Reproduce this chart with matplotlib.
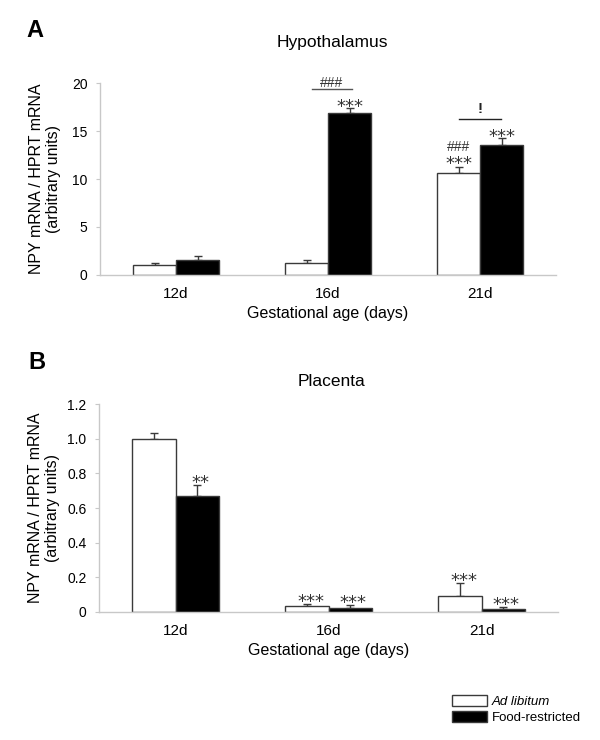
import matplotlib.pyplot as plt
import numpy as np

plt.rcParams['font.family'] = ['Liberation Sans', 'DejaVu Sans']

ages = ["12d", "16d", "21d"]
groups = ["Ad libitum", "Food-restricted"]

# hypothalamus
hyp_adlib = [1.0, 1.2, 10.6]
hyp_adlib_err = [0.24, 0.38, 0.7]
hyp_fr = [1.58, 16.9, 13.5]
hyp_fr_err = [0.35, 0.5, 0.75]
hyp_adlib_sig = ["", "", "***"]
hyp_adlib_sig2 = ["", "", "###"]
hyp_fr_sig = ["", "***", "***"]
hyp_pair_sig = ["", "###", "!"]

# placenta
pla_adlib = [1.0, 0.037, 0.094]
pla_adlib_err = [0.035, 0.01, 0.076]
pla_fr = [0.67, 0.025, 0.019]
pla_fr_err = [0.063, 0.015, 0.012]
pla_adlib_sig = ["", "***", "***"]
pla_fr_sig = ["**", "***", "***"]

fig = plt.figure(figsize=(6, 7.4), dpi=100)
axA = fig.add_axes([0.1667, 0.6284, 0.76, 0.2594])
axB = fig.add_axes([0.165, 0.173, 0.765, 0.281])

x = np.arange(len(ages))
w = 0.283
edge = "#3a3a3a"
grey = "#c8c8c8"
markc = "#333333"
star_fs = 13


def draw_panel(ax, white, white_err, black, black_err, ymax, step, fmt):
    ax.bar(x - w / 2, white, w, color="white", edgecolor=edge, linewidth=1.0, label=groups[0], zorder=2)
    ax.bar(x + w / 2, black, w, color="black", edgecolor=edge, linewidth=1.0, label=groups[1], zorder=2)
    ax.errorbar(x - w / 2, white, yerr=[np.zeros(3), white_err], fmt="none", ecolor=edge,
                elinewidth=1.0, capsize=3, capthick=1.0, zorder=1)
    ax.errorbar(x + w / 2, black, yerr=[np.zeros(3), black_err], fmt="none", ecolor=edge,
                elinewidth=1.0, capsize=3, capthick=1.0, zorder=1)
    ax.set_xlim(-0.5, 2.5)
    ax.set_ylim(0, ymax)
    ticks = np.arange(0, ymax + step / 2, step)
    ax.set_yticks(ticks)
    ax.set_yticklabels([fmt(t) for t in ticks], fontsize=10)
    ax.set_xticks(x)
    ax.set_xticklabels(ages, fontsize=11)
    ax.tick_params(axis="x", length=0, pad=9)
    ax.tick_params(axis="y", length=3, color=grey, pad=6)
    for s in ["top", "right"]:
        ax.spines[s].set_visible(False)
    for s in ["left", "bottom"]:
        ax.spines[s].set_color(grey)
        ax.spines[s].set_linewidth(1.0)
    ax.set_xlabel("Gestational age (days)", fontsize=11.5, labelpad=3)
    ax.set_ylabel("NPY mRNA / HPRT mRNA\n(arbitrary units)", fontsize=11.5, linespacing=1.15)
    ax.yaxis.set_label_coords(-0.085, 0.5)


def stars(ax, xs, tops, labels, pad_pt=5):
    # asterisk glyph centre sits pad_pt above the error-bar cap
    for xi, t, lab in zip(xs, tops, labels):
        if lab:
            ax.annotate(lab, (xi, t), xytext=(0, pad_pt - 0.55 * star_fs), textcoords="offset points",
                        ha="center", va="baseline", fontsize=star_fs, color=markc,
                        family="DejaVu Sans")


def hashes(ax, xi, y, lab, lift_pt):
    ax.annotate(lab, (xi, y), xytext=(0, lift_pt), textcoords="offset points",
                ha="center", va="baseline", fontsize=10, color=markc, annotation_clip=False)


draw_panel(axA, hyp_adlib, hyp_adlib_err, hyp_fr, hyp_fr_err, 20, 5, lambda t: "%d" % t)
draw_panel(axB, pla_adlib, pla_adlib_err, pla_fr, pla_fr_err, 1.2, 0.2,
           lambda t: "0" if t == 0 else "%.1f" % t)

# significance marks, panel A
topA_w = np.array(hyp_adlib) + np.array(hyp_adlib_err)
topA_b = np.array(hyp_fr) + np.array(hyp_fr_err)
stars(axA, x - w / 2, topA_w, hyp_adlib_sig, 5.5)
for xi, t, lab in zip(x - w / 2, topA_w, hyp_adlib_sig2):
    if lab:
        hashes(axA, xi, t, lab, 11)
stars(axA, x + w / 2, topA_b, hyp_fr_sig, 4.5)

# bracket comparisons in A
for xi, lab in zip(x, hyp_pair_sig):
    if not lab:
        continue
    yl = max(topA_w[xi], topA_b[xi]) + 2.0
    if lab == "###":
        axA.plot([xi - 0.105, xi + 0.16], [yl, yl], color="#555555", lw=1.0, clip_on=False)
        hashes(axA, xi + 0.025, yl, lab, 1.5)
    else:
        axA.plot([xi - 0.14, xi + 0.14], [yl, yl], color="#222222", lw=1.0, clip_on=False)
        axA.annotate(lab, (xi, yl), xytext=(0, 4), textcoords="offset points", ha="center",
                     va="baseline", fontsize=11, fontweight="bold", color="#222222")

# significance marks, panel B
topB_w = np.array(pla_adlib) + np.array(pla_adlib_err)
topB_b = np.array(pla_fr) + np.array(pla_fr_err)
stars(axB, x - w / 2 + 0.03, topB_w, pla_adlib_sig, 5)
stars(axB, x + w / 2 + 0.02, topB_b, pla_fr_sig, 5)

fig.text(0.5533, 0.943, "Hypothalamus", ha="center", va="center", fontsize=12.5)
fig.text(0.5533, 0.484, "Placenta", ha="center", va="center", fontsize=12.5)
fig.text(0.044, 0.959, "A", ha="left", va="center", fontsize=17, fontweight="bold")
fig.text(0.048, 0.51, "B", ha="left", va="center", fontsize=17, fontweight="bold")

handles, labels = axB.get_legend_handles_labels()
leg = fig.legend(handles, labels, loc="upper left", bbox_to_anchor=(0.745, 0.068),
                 frameon=False, fontsize=9.5, handlelength=2.6, handleheight=0.9,
                 handletextpad=0.4, labelspacing=0.2, borderaxespad=0)
leg.get_texts()[0].set_fontstyle("italic")

fig.savefig("out.png", dpi=100)
